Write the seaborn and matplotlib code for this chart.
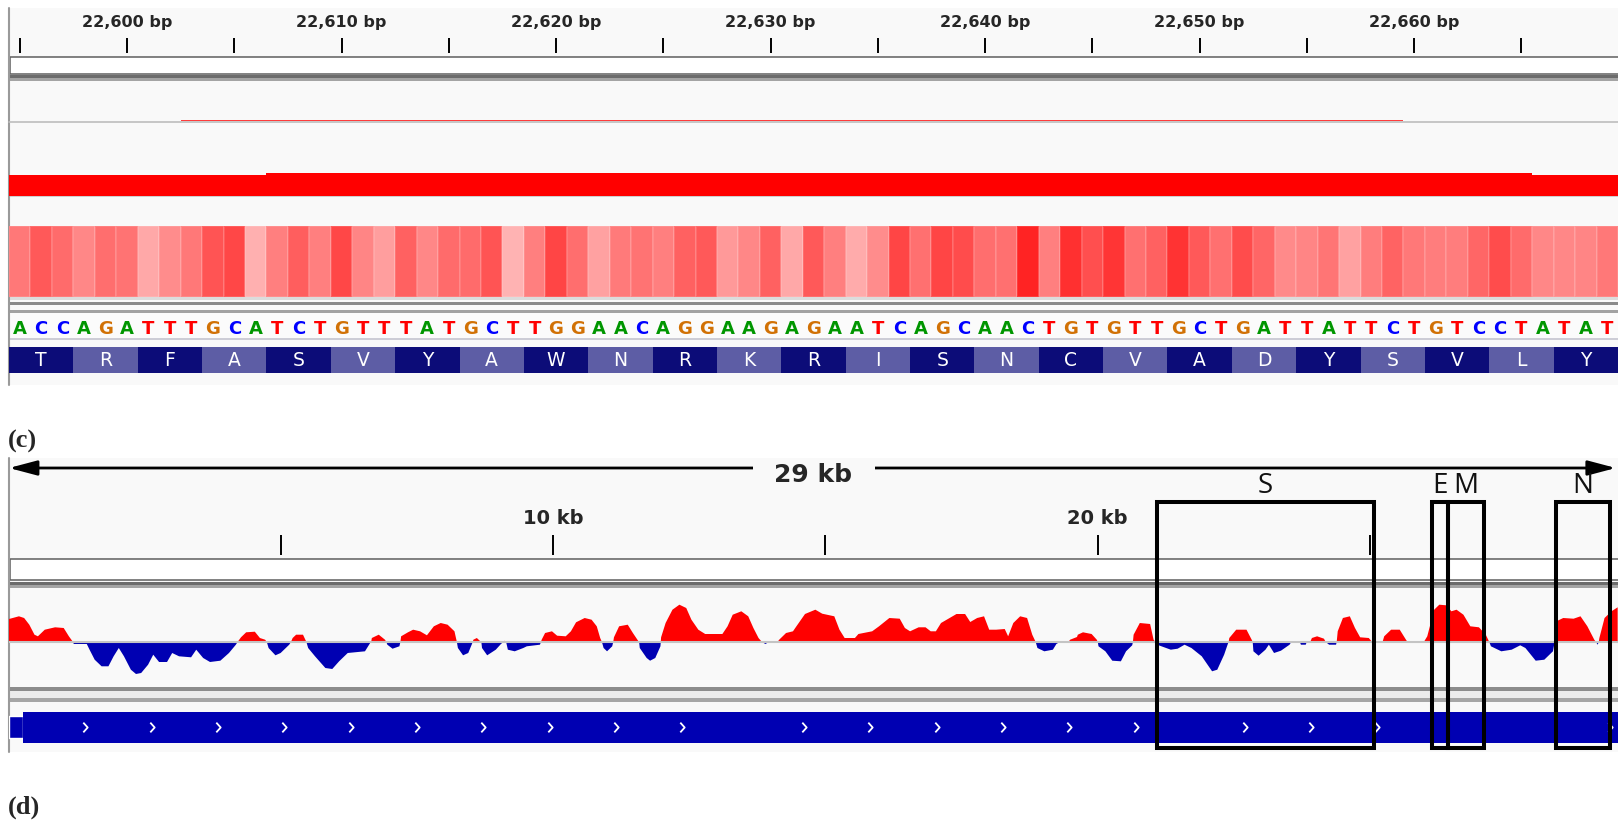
import numpy as np
import pandas as pd
import matplotlib
matplotlib.use("Agg")
import matplotlib.pyplot as plt
import matplotlib.transforms as mtransforms
import seaborn as sns
from matplotlib.patches import Rectangle
from matplotlib.colors import LinearSegmentedColormap
from matplotlib.path import Path

sns.set_theme(style="white")
plt.rcParams["font.family"] = ["DejaVu Sans"]

# ---------------------------------------------------------------- data
# (c) base-level view around the spike gene
BASE_START = 22595
sequence = "ACCAGATTTGCATCTGTTTATGCTTGGAACAGGAAGAGAATCAGCAACTGTGTTGCTGATTATTCTGTCCTATAT"
amino_acids = ["T", "R", "F", "A", "S", "V", "Y", "A", "W", "N", "R", "K", "R",
               "I", "S", "N", "C", "V", "A", "D", "Y", "S", "V", "L", "Y"]
ruler_labels_bp = [22600, 22610, 22620, 22630, 22640, 22650, 22660]

# per-base heat score
base_score = [0.53, 0.65, 0.58, 0.47, 0.57, 0.55, 0.34, 0.45, 0.53, 0.67,
              0.72, 0.31, 0.50, 0.63, 0.50, 0.72, 0.48, 0.38, 0.62, 0.47,
              0.58, 0.58, 0.67, 0.30, 0.50, 0.73, 0.57, 0.37, 0.52, 0.55,
              0.50, 0.62, 0.65, 0.40, 0.47, 0.62, 0.34, 0.65, 0.50, 0.33,
              0.45, 0.73, 0.56, 0.73, 0.70, 0.57, 0.56, 0.86, 0.50, 0.81,
              0.69, 0.79, 0.56, 0.62, 0.80, 0.65, 0.56, 0.70, 0.60, 0.46,
              0.48, 0.54, 0.37, 0.51, 0.61, 0.53, 0.51, 0.51, 0.60, 0.70,
              0.58, 0.47, 0.47, 0.48, 0.53]

# bedgraph-style segments (start, end, value)
thin_seg_start = [22602.5]
thin_seg_end = [22659.5]
thin_seg_value = [1.0]

depth_seg_start = [22594.5, 22606.5, 22665.5]
depth_seg_end = [22606.5, 22665.5, 22669.5]
depth_seg_value = [575, 612, 575]

# (d) whole-genome view
genome_ticks_bp = [5000, 10000, 15000, 20000, 25000]
genome_labels_bp = [10000, 20000]

sig_pos = [0, 183, 278, 373, 468, 531, 657, 847, 1005, 1100, 1176, 1190, 1429, 1480,
           1574, 1701, 1827, 1922, 2017, 2112, 2239, 2333, 2428, 2555, 2650, 2757,
           2903, 2998, 3124, 3345, 3440, 3567, 3693, 3883, 4041, 4168, 4199, 4262,
           4357, 4516, 4610, 4705, 4737, 4769, 4895, 4990, 5148, 5180, 5211, 5275,
           5401, 5464, 5496, 5622, 5812, 5939, 6065, 6223, 6540, 6635, 6654, 6666,
           6793, 6907, 6932, 6951, 7046, 7172, 7191, 7204, 7330, 7425, 7552, 7678,
           7805, 7931, 8058, 8184, 8228, 8247, 8342, 8437, 8500, 8519, 8532, 8595,
           8659, 8678, 8690, 8785, 8943, 9038, 9083, 9102, 9133, 9165, 9291, 9449,
           9513, 9754, 9773, 9786, 9849, 9975, 10070, 10228, 10323, 10418, 10576,
           10703, 10798, 10861, 10893, 10924, 10987, 11082, 11101, 11114, 11209,
           11367, 11462, 11557, 11576, 11588, 11715, 11778, 11873, 11968, 11974,
           11980, 12063, 12189, 12316, 12442, 12537, 12664, 12790, 13106, 13201,
           13296, 13454, 13581, 13676, 13770, 13834, 13897, 13960, 14118, 14150,
           14276, 14403, 14466, 14624, 14814, 14941, 15162, 15257, 15352, 15541,
           15605, 15858, 15984, 16174, 16364, 16459, 16554, 16712, 16838, 16933,
           17028, 17123, 17281, 17407, 17565, 17660, 17787, 17913, 18008, 18135,
           18293, 18356, 18451, 18577, 18704, 18799, 18862, 18894, 19020, 19178,
           19242, 19305, 19463, 19495, 19621, 19636, 19731, 19889, 19984, 20003,
           20016, 20142, 20269, 20427, 20522, 20635, 20648, 20661, 20775, 20964,
           21028, 21059, 21122, 21344, 21470, 21597, 21723, 21913, 22103, 22198,
           22324, 22387, 22406, 22419, 22546, 22735, 22830, 22849, 22862, 22957,
           23083, 23146, 23241, 23368, 23526, 23558, 23716, 23735, 23823, 23842,
           23905, 23937, 24032, 24158, 24190, 24253, 24380, 24392, 24411, 24506,
           24633, 24728, 24823, 24981, 25044, 25234, 25265, 25392, 25550, 25676,
           25708, 25993, 26056, 26183, 26277, 26404, 26499, 26594, 26720, 26847,
           27005, 27131, 27195, 27226, 27416, 27606, 27764, 27859, 28048, 28206,
           28365, 28396, 28428, 28554, 28744, 28871, 28997, 29124, 29155, 29187,
           29206, 29218, 29313, 29440, 29554]
sig_val = [0.23, 0.257, 0.24, 0.173, 0.073, 0.057, 0.123, 0.147, 0.14, 0.057, 0, -0.02,
           -0.02, -0.077, -0.177, -0.243, -0.243, -0.143, -0.06, -0.143, -0.277, -0.32,
           -0.31, -0.227, -0.127, -0.2, -0.2, -0.11, -0.143, -0.153, -0.077, -0.16,
           -0.2, -0.187, -0.11, -0.027, 0, 0.047, 0.097, 0.103, 0.04, 0.023, 0, -0.06,
           -0.133, -0.11, -0.027, 0, 0.04, 0.073, 0.073, 0, -0.06, -0.143, -0.26,
           -0.27, -0.193, -0.11, -0.093, -0.01, 0, 0.04, 0.073, 0.023, 0, -0.027,
           -0.067, -0.043, 0, 0.057, 0.097, 0.123, 0.107, 0.067, 0.157, 0.19, 0.173,
           0.107, 0, -0.06, -0.133, -0.11, -0.027, 0, 0.023, 0.04, 0.007, 0, -0.06,
           -0.133, -0.077, -0.02, 0, 0.013, 0, -0.077, -0.093, -0.06, -0.043, -0.027,
           0, 0.023, 0.09, 0.107, 0.063, 0.057, 0.107, 0.197, 0.24, 0.223, 0.157,
           0.04, 0, -0.06, -0.093, -0.043, 0, 0.047, 0.157, 0.173, 0.09, 0.013, 0,
           -0.06, -0.16, -0.187, -0.16, -0.043, 0, 0.047, 0.19, 0.323, 0.373, 0.34,
           0.223, 0.123, 0.08, 0.08, 0.157, 0.273, 0.307, 0.257, 0.14, 0.04, 0,
           -0.02, 0, 0, 0.023, 0.09, 0.107, 0.157, 0.28, 0.323, 0.283, 0.257, 0.123,
           0.04, 0.04, 0.08, 0.107, 0.157, 0.24, 0.233, 0.14, 0.107, 0.147, 0.147,
           0.107, 0.107, 0.19, 0.24, 0.28, 0.28, 0.2, 0.24, 0.257, 0.123, 0.123,
           0.13, 0.057, 0.19, 0.257, 0.24, 0.073, 0, -0.06, -0.093, -0.077, -0.02,
           0, 0, 0.023, 0.05, 0.073, 0.097, 0.08, 0.023, 0, -0.043, -0.093, -0.187,
           -0.193, -0.093, -0.033, 0, 0.073, 0.19, 0.18, 0.023, 0, -0.033, -0.077,
           -0.067, -0.027, -0.06, -0.143, -0.293, -0.277, -0.127, -0.027, 0, 0.04,
           0.123, 0.123, 0.023, 0, -0.093, -0.137, -0.077, -0.027, -0.11, -0.087,
           -0.027, 0, 0, -0.027, -0.027, 0, 0, 0.04, 0.057, 0.033, 0, -0.027,
           -0.027, 0, 0.107, 0.24, 0.257, 0.14, 0.047, 0.04, 0, 0, 0.057, 0.123,
           0.123, 0.013, 0, 0, 0.057, 0.323, 0.373, 0.367, 0.307, 0.323, 0.273,
           0.157, 0.147, 0.073, 0, -0.043, -0.093, -0.077, -0.033, -0.06, -0.187,
           -0.177, -0.093, 0, 0.207, 0.24, 0.233, 0.257, 0.157, 0.023, 0, -0.027,
           0, 0.04, 0.24, 0.307, 0.347]

utr5_start, utr5_end = 1, 265
gene_names = ["ORF1a", "ORF1b", "S", "ORF3a", "E", "M", "ORF6", "ORF7a",
              "ORF7b", "ORF8", "N", "ORF10"]
gene_start = [266, 13468, 21563, 25393, 26245, 26523, 27202, 27394, 27756,
              27894, 28274, 29558]
gene_end = [13483, 21555, 25384, 26220, 26472, 27191, 27387, 27759, 27887,
            28259, 29533, 29674]

box_labels = ["S", "E", "M", "N"]
box_start = [21090, 26135, 26440, 28415]
box_end = [25070, 26440, 27100, 29415]

# ---------------------------------------------------------------- layout
W, H = 1618, 821
fig = plt.figure(figsize=(W / 100, H / 100), dpi=100)
BG = "#f9f9f9"
BASE_COLORS = {"A": "#009600", "C": "#0000ff", "G": "#d17105", "T": "#ff0000"}
AA_COLORS = ["#0c0c78", "#5d5da5"]
GENE_BLUE = "#0000b2"


def px_ax(x0, y0, x1, y1):
    ax = fig.add_axes([x0 / W, 1 - y1 / H, (x1 - x0) / W, (y1 - y0) / H])
    ax.set_axis_off()
    return ax


# background canvas in pixel units
bg = px_ax(0, 0, W, H)
bg.set_xlim(0, W)
bg.set_ylim(H, 0)


def band(y0, y1, color, x0=9):
    bg.add_patch(Rectangle((x0, y0), W - x0, y1 - y0, facecolor=color,
                           edgecolor="none"))


# panel (c) frame
band(8, 385, BG)
bg.add_patch(Rectangle((10, 57), W, 17, facecolor="white", edgecolor="#5f5f5f", lw=1.1))
band(75, 78, "#6c6c6c")
band(78, 81, "#a4a4a4")
band(297.5, 300, "#dcdcdc")
band(302.5, 305.5, "#8a8a8a")
band(310.5, 313.3, "#a2a2a2")
band(313.3, 338, "#fbfbfb")
band(338, 339.8, "#cdcdd6")
bg.plot([9.5, 9.5], [8, 385], color="#9a9a9a", lw=1.5)

# panel (d) frame
band(458, 752, BG)
bg.add_patch(Rectangle((10, 559), W, 21, facecolor="white", edgecolor="#5f5f5f", lw=1.1))
band(582, 585, "#6c6c6c")
band(585, 588, "#a4a4a4")
band(687, 691.5, "#8c8c8c")
band(691.5, 698, "#ececec")
band(698, 702, "#a6a6a6")
bg.plot([9.5, 9.5], [458, 752], color="#9a9a9a", lw=1.5)

bg.text(8, 441, "(c)", fontsize=19, fontweight="bold", family="Liberation Serif",
        ha="left", va="center")
bg.text(8, 807, "(d)", fontsize=19, fontweight="bold", family="Liberation Serif",
        ha="left", va="center")

# ---------------------------------------------------------------- panel (c)
view_c = (BASE_START - 0.5, BASE_START + len(sequence) - 0.5)

ax_r = px_ax(9, 8, W, 56)
ax_r.set_xlim(*view_c)
ax_r.set_ylim(56, 8)
minor = np.arange(BASE_START, BASE_START + len(sequence), 5)
ax_r.vlines(minor, 38, 53, color="black", lw=1.4)
for bp in ruler_labels_bp:
    ax_r.text(bp, 23, f"{bp:,} bp", ha="center", va="center", fontsize=11.5,
              fontweight="bold")

ax_a = px_ax(9, 81, W, 122)
ax_a.set_xlim(*view_c)
ax_a.set_ylim(0, 24)
ax_a.axhline(0, color="#bdbdbd", lw=1.2, clip_on=False)
ax_a.bar([(s + e) / 2 for s, e in zip(thin_seg_start, thin_seg_end)], thin_seg_value,
         width=[e - s for s, e in zip(thin_seg_start, thin_seg_end)],
         bottom=0.4, color="#ff3c3c", lw=0)

ax_b = px_ax(9, 122, W, 196)
ax_b.set_xlim(*view_c)
ax_b.set_ylim(0, 2000)
ax_b.bar([(s + e) / 2 for s, e in zip(depth_seg_start, depth_seg_end)], depth_seg_value,
         width=[e - s for s, e in zip(depth_seg_start, depth_seg_end)],
         color="#ff0000", lw=0)
band(196, 197.5, "#cfcfcf")

ax_h = px_ax(9, 226, W, 297.3)
heat_cmap = LinearSegmentedColormap.from_list("score", ["#ffffff", "#ff0000"])
heat_df = pd.DataFrame([base_score],
                       columns=[BASE_START + i for i in range(len(base_score))])
sns.heatmap(heat_df, cmap=heat_cmap, vmin=0, vmax=1, cbar=False, ax=ax_h,
            xticklabels=False, yticklabels=False, linewidths=0.15,
            linecolor=(1, 1, 1, 0.12))
ax_h.set_axis_off()

ax_s = px_ax(9, 313, W, 340)
ax_s.set_xlim(*view_c)
ax_s.set_ylim(340, 313)
for i, base in enumerate(sequence):
    ax_s.text(BASE_START + i, 328.5, base, color=BASE_COLORS[base], ha="center",
              va="center", fontsize=13, fontweight="bold")

ax_aa = px_ax(9, 347.3, W, 372.7)
ax_aa.set_xlim(*view_c)
ax_aa.set_ylim(0, 1)
aa_centers = [BASE_START + 1 + 3 * i for i in range(len(amino_acids))]
ax_aa.bar(aa_centers, 1, width=3, color=[AA_COLORS[i % 2] for i in range(len(amino_acids))],
          lw=0)
for c, aa in zip(aa_centers, amino_acids):
    ax_aa.text(c, 0.5, aa, color="white", ha="center", va="center", fontsize=13.5)

# ---------------------------------------------------------------- panel (d)
view_d = (0, 29560)

ax_R = px_ax(9, 458, W, 557)
ax_R.set_xlim(*view_d)
ax_R.set_ylim(557, 458)
ax_R.annotate("", xy=(0, 468), xytext=(29520, 468),
              arrowprops=dict(arrowstyle="<|-|>,head_length=1.7,head_width=0.45",
                              color="black", lw=2, shrinkA=0, shrinkB=0,
                              mutation_scale=10))
gap_tf = mtransforms.blended_transform_factory(ax_R.transAxes, ax_R.transData)
ax_R.add_patch(Rectangle((0.4624, 462), 0.0758, 12, transform=gap_tf,
                         facecolor=BG, edgecolor="none", zorder=3))
ax_R.text(0.5, 475, "29 kb", transform=gap_tf, ha="center", va="center",
          fontsize=18, fontweight="bold", zorder=4)
ax_R.vlines(genome_ticks_bp, 535, 555, color="black", lw=1.4)
for bp in genome_labels_bp:
    ax_R.text(bp, 518, f"{bp // 1000} kb", ha="center", va="center", fontsize=14,
              fontweight="bold")

ax_sig = px_ax(9, 588, W, 687)
ax_sig.set_xlim(*view_d)
ax_sig.set_ylim(-0.45, 0.54)
pos = np.array(sig_pos, dtype=float)
val = np.array(sig_val, dtype=float)
ax_sig.fill_between(pos, val, 0, where=val >= 0, interpolate=True, color="#ff0000", lw=0)
ax_sig.fill_between(pos, val, 0, where=val <= 0, interpolate=True, color=GENE_BLUE, lw=0)
ax_sig.axhline(0, color="#c4c4c4", lw=1.5, zorder=5)

ax_g = px_ax(9, 702, W, 752)
ax_g.set_xlim(*view_d)
ax_g.set_ylim(752, 702)
ax_g.broken_barh([(utr5_start, utr5_end - utr5_start)], (716, 22), facecolors=GENE_BLUE)
# coding span as one continuous block, with each feature laid over it
ax_g.broken_barh([(gene_start[0], gene_end[-1] - gene_start[0])], (711.7, 31),
                 facecolors=GENE_BLUE, edgecolors="none")
ax_g.broken_barh([(s, e - s) for s, e in zip(gene_start, gene_end)], (711.7, 31),
                 facecolors=GENE_BLUE, edgecolors="none")
chevron = Path([(-0.45, 1), (0.45, 0), (-0.45, -1)],
               [Path.MOVETO, Path.LINETO, Path.LINETO])
CHEV_FIRST, CHEV_STEP, CHEV_END_PAD = 1139, 1218, 92
chev_x = []
for s, e in zip(gene_start, gene_end):
    x = s + CHEV_FIRST
    while x < e - CHEV_END_PAD:
        chev_x.append(x)
        x += CHEV_STEP
ax_g.plot(chev_x, [727] * len(chev_x), linestyle="none", marker=chevron,
          markersize=7, markeredgecolor="white", markerfacecolor="none",
          markeredgewidth=1.3)

# annotation boxes over the genome view
ax_box = px_ax(9, 0, W, H)
ax_box.set_xlim(*view_d)
ax_box.set_ylim(H, 0)
for lab, s, e in zip(box_labels, box_start, box_end):
    ax_box.add_patch(Rectangle((s, 502), e - s, 246, fill=False, edgecolor="black",
                               lw=2.9, joinstyle="miter"))
    ax_box.text((s + e) / 2, 486, lab, ha="center", va="center", fontsize=20,
                family="Open Sans", color="#111111")

fig.savefig("out.png", dpi=100)
